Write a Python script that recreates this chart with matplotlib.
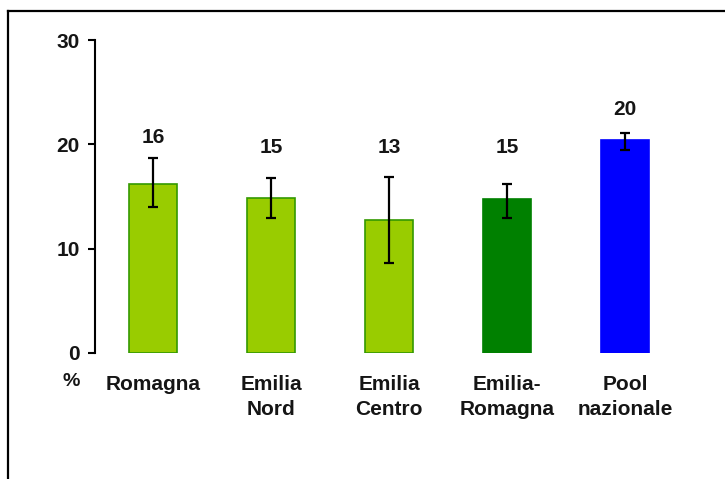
import matplotlib
matplotlib.use("Agg")
import matplotlib.pyplot as plt
from matplotlib.lines import Line2D

plt.rcParams['font.family'] = ['Liberation Sans', 'DejaVu Sans']

categories = ["Romagna", "Emilia\nNord", "Emilia\nCentro", "Emilia-\nRomagna", "Pool\nnazionale"]
values = [16.2, 14.9, 12.7, 14.8, 20.4]
err_low = [14.0, 12.9, 8.6, 12.9, 19.5]
err_high = [18.7, 16.8, 16.9, 16.2, 21.1]
value_labels = ["16", "15", "13", "15", "20"]
y_ticks = [0, 10, 20, 30]

fill_colors = ["#99cc00", "#99cc00", "#99cc00", "#008000", "#0000ff"]
edge_colors = ["#339900", "#339900", "#339900", "#008000", "#0000ff"]

W, H = 725, 479
fig = plt.figure(figsize=(W / 100, H / 100), dpi=100)
fig.patch.set_facecolor("white")

x0, x1 = 95, 700
y0, y1 = 353, 40
ax = fig.add_axes([x0 / W, (H - y0) / H, (x1 - x0) / W, (y0 - y1) / H])

FS = 15
TXT = "#151515"

x = list(range(len(categories)))
ax.bar(x, values, width=0.41, color=fill_colors, edgecolor=edge_colors, linewidth=1.2, zorder=2)
yerr = [[v - lo for v, lo in zip(values, err_low)], [hi - v for v, hi in zip(values, err_high)]]
ax.errorbar(x, values, yerr=yerr, fmt="none", ecolor="black", elinewidth=1.6,
            capsize=3.8, capthick=1.6, zorder=3)

# value labels sit at fixed heights above each bar
label_y = [20.7, 19.65, 19.65, 19.65, 23.3]
for xi, txt, ly in zip(x, value_labels, label_y):
    ax.text(xi, ly, txt, ha="center", va="center", fontsize=FS, fontweight="bold", color=TXT)

ax.set_xlim(-(153 - x0) / 118, (x1 - 153) / 118)
ax.set_ylim(0, 30)
ax.set_yticks(y_ticks)
ax.set_yticklabels([str(t) for t in y_ticks], fontsize=FS, fontweight="bold", color=TXT)
ax.tick_params(axis="y", direction="out", length=5, width=1.5, pad=6)
ax.set_xticks(x)
ax.set_xticklabels(categories, fontsize=FS, fontweight="bold", color=TXT, linespacing=1.42, va="top")
ax.tick_params(axis="x", length=0, pad=15.5)

for s in ["top", "right", "bottom"]:
    ax.spines[s].set_visible(False)
ax.spines["left"].set_linewidth(1.5)
ax.spines["left"].set_bounds(0, 30)

fig.text(71 / W, (H - 382) / H, "%", ha="center", va="center", fontsize=FS - 1, fontweight="bold", color=TXT)

# outer frame (left and top edges)
fx, fy = 7.5 / W, (H - 10.5) / H
fig.add_artist(Line2D([fx, fx], [0, fy], transform=fig.transFigure, color="black", linewidth=1.6))
fig.add_artist(Line2D([fx, 1], [fy, fy], transform=fig.transFigure, color="black", linewidth=1.6))

fig.savefig("out.png", dpi=100, facecolor="white")
